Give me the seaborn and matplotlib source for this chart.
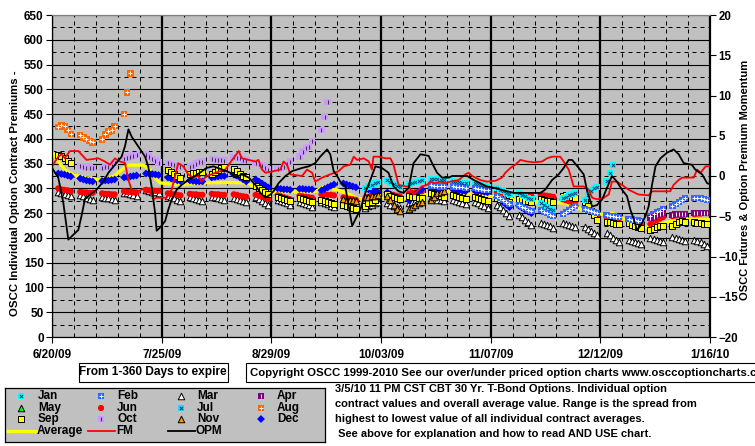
import numpy as np
import pandas as pd
import matplotlib
matplotlib.use("Agg")
import matplotlib.pyplot as plt
import matplotlib.dates as mdates
from matplotlib.ticker import FixedLocator, MultipleLocator, NullFormatter
from matplotlib.patches import Rectangle
import seaborn as sns

plt.rcParams['font.family'] = ['Liberation Sans', 'DejaVu Sans']
plt.rcParams['font.weight'] = 'bold'

# ---------------- data ----------------
base_date = "2009-06-20"
x_tick_dates = ["2009-06-20", "2009-07-25", "2009-08-29", "2009-10-03",
                "2009-11-07", "2009-12-12", "2010-01-16"]
x_tick_labels = ["6/20/09", "7/25/09", "8/29/09", "10/03/09", "11/07/09", "12/12/09", "1/16/10"]
left_ticks = list(range(0, 651, 50))
right_ticks = list(range(-20, 21, 5))

# contract series: first trading day + one value per trading day (Mon-Fri); None = no value
mar_start = "2009-06-22"
mar = [293, 291, 289, 287, 285, 287, 284, 281, 279, 277, 283, 281, 280, 279, 277,
       291, 290, 288, 286, 285, 297, 295, 293, 292, 291, 285, 282, 280, 277, 275,
       283, 281, 279, 277, 275, 283, 282, 280, 279, 277, 281, 279, 277, 275, 272,
       282, 278, 274, 270, 267, 277, 275, 272, 270, 267, 273, 271, 268, 266, 263,
       272, 270, 268, 265, 263, 270, 267, 265, 262, 259, 261, 264, 267, 270, 273,
       270, 267, 264, 262, 260, 271, 273, 275, 276, 277, 280, 279, 277, 276, 274,
       277, 275, 273, 271, 268, 273, 270, 267, 264, 260, 267, 262, 256, 250, 244,
       247, 242, 237, 232, 227, 230, 228, 226, 224, 221, 230, 228, 226, 224, 222,
       222, 218, 214, 210, 206, 210, 205, 200, 196, 192, 196, 193, 191, 189, 187,
       199, 198, 196, 194, 192, 201, 199, 197, 195, 193, 196, 194, 191, 188, 184]

jun_start = "2009-06-22"
jun = [300, 298, 297, 296, 294, 293, 292, 292, 291, 291, 290, 289, 289, 288, 288,
       294, 293, 293, 292, 292, 297, 296, 296, 295, 295, 290, 289, 288, 287, 286,
       289, 288, 288, 287, 287, 289, 288, 288, 287, 287, 288, 287, 285, 284, 283,
       287, 285, 283, 281, 279, 286, 284, 282, 280, 278, 285, 284, 283, 282, 281,
       288, 288, 287, 287, 286, 282, 280, 279, 278, 277, 280, 283, 286, 289, 292,
       290, 288, 287, 285, 284, 290, 291, 292, 293, 294, 296, 297, 297, 298, 298,
       298, 297, 297, 296, 296, 295, 294, 294, 293, 293, 292, 291, 290, 289, 288,
       288, 287, 286, 285, 284, 287, 286, 285, 284, 283, 278, 276, 274, 272, 270,
       262, 257, 252, 248, 245, 243, 242, 241, 240, 239, 238, 235, 232, 230, 228,
       228, 232, 236, 239, 242, 244, 245, 246, 246, 247, 248, 249, 249, 250, 250]

sep_start = "2009-06-22"
sep = [368, 366, 361, 356, 352, None, None, None, None, None, None, None, None, None, None,
       None, None, None, None, None, None, None, None, None, None, 337, 333, 329, 325, 321,
       330, 331, 332, 333, 334, 330, 334, 338, 341, 343, 340, 335, 330, 326, 322,
       305, 300, 296, 292, 288, 283, 281, 279, 277, 275, 280, 278, 276, 274, 272,
       277, 275, 273, 271, 269, 267, 264, 262, 260, 258, 265, 270, 273, 277, 285,
       288, 285, 282, 280, 278, 284, 283, 282, 281, 280, 290, 288, 286, 284, 282,
       287, 285, 283, 281, 279, 283, 281, 279, 277, 275, 280, 278, 276, 274, 272,
       279, 277, 275, 274, 272, 278, 276, 275, 274, 272, 285, 286, 285, 283, 281,
       273, 265, 255, 246, 237, 233, 232, 230, 229, 228, 230, 227, 224, 222, 220,
       216, 219, 222, 224, 225, 224, 228, 232, 234, 233, 232, 231, 230, 229, 228]

dec_start = "2009-06-22"
dec = [330, 329, 328, 326, 324, 320, 318, 316, 315, 314, 315, 316, 316, 317, 318,
       322, 323, 324, 325, 326, 330, 330, 329, 328, 327, 322, 320, 318, 316, 315,
       316, 315, 314, 314, 314, 322, 323, 324, 325, 325, 328, 326, 322, 318, 314,
       318, 314, 310, 306, 302, 300, 299, 298, 298, 297, 299, 299, 298, 298, 298,
       296, 299, 302, 305, 308, 310, 308, 306, 304, 302, 300, 298, 296, 294, 292,
       292, 288, 284, 280, 276, 276, 282, 288, 293, 298, 300, 300, 299, 299, 298,
       298, 297, 296, 295, 294, 296, 295, 294, 293, 292, 282, 277, 272, 267, 262,
       265, 261, 257, 253, 250]

aug_start = "2009-06-22"
aug = [424, 427, 425, 418, 410, 408, 403, 400, 396, 393, 399, 409, 415, 417, 426,
       450, 494, 532]

oct_start = "2009-06-29"
oct_ = [345, 343, 342, 342, 341, 341, 343, 344, 346, 351, 360, 362, 364, 366, 367,
        368, 364, 359, 356, 352, 351, 349, 347, 345, 344, 344, 346, 350, 353, 354,
        359, 358, 357, 357, 356, 363, 362, 361, 358, 356, 352, 349, 346, 342, 338,
        339, 341, 344, 349, 354, 364, 374, 381, 384, 396, 418, 444, 474]

jan_start = "2009-09-28"
jan = [301, 304, 307, 310, 313, 316, 312, 308, 305, 302, 308, 311, 313, 315, 316,
       318, 319, 318, 317, 316, 314, 313, 312, 311, 310, 310, 309, 307, 305, 303,
       300, 297, 294, 291, 288, 290, 287, 284, 281, 278, 270, 266, 262, 259, 256,
       280, 283, 286, 288, 290, 277, 287, 294, 300, 303, 314, 331, 347]

feb_start = "2009-10-19"
feb = [306, 305, 305, 304, 304, 304, 303, 302, 302, 301, 300, 299, 298, 297, 296,
       285, 281, 277, 273, 269, 266, 263, 260, 257, 254, 256, 253, 250, 247, 244,
       249, 253, 257, 261, 265, 258, 256, 254, 252, 250, 246, 245, 244, 243, 242,
       238, 237, 236, 235, 234, 245, 249, 252, 255, 258, 265, 269, 273, 277, 280,
       281, 281, 280, 278, 276]

apr_start = "2009-12-28"
apr = [240, 243, 246, 248, 250, 247, 248, 248, 249, 249, 250, 251, 251, 250, 250]

nov_start = "2009-09-21"
nov = [278, 277, 276, 276, 275, 282, 283, 284, 285, 286, 284, 277, 267, 258, 255,
       258, 262, 267, 270, 272, 277, 283, 290, 293, 295]

# lines: days after 6/20/09 and values
avg_days = [0, 1.6, 4.2, 6.9, 11.2, 15.4, 19.7, 22.9, 24.4, 29.2, 31.4, 33.5, 34.6, 41.0,
            47.3, 56.0, 62.3, 66.5, 69.0, 74.5, 84.0, 86.5, 91.1, 95.2, 97.8, 104.8, 111.2,
            115.3, 126.2, 139.9, 147.2, 153.6, 159.0, 163.8, 168.0, 173.4, 178.8, 183.0,
            187.1, 191.6, 195.7, 202.1, 210.4]
avg_vals = [374, 358, 337, 327, 321, 317, 324, 341, 347, 347, 337, 317, 311, 307,
            311, 312, 311, 297, 292, 293, 293, 303, 297, 287, 279, 280, 277,
            284, 294, 284, 277, 273, 273, 270, 260, 247, 250, 237,
            220, 223, 231, 237, 237]

fm_days = [0, 2.0, 3.1, 4.1, 5.7, 8.4, 11.0, 14.8, 16.9, 18.5,
           20.1, 21.7, 23.3, 24.4, 25.4, 27.5, 29.7, 31.3, 32.3, 33.4,
           36.6, 38.2, 40.3, 41.9, 43.5, 45.1, 46.7, 47.7, 49.3, 50.9,
           52.1, 55.3, 57.5, 59.6, 60.6, 62.8, 64.9, 65.9, 67.0, 68.1,
           70.7, 72.9, 73.9, 75.0, 76.1, 79.8, 81.4, 83.0, 84.0, 86.2,
           88.8, 91.5, 93.1, 95.2, 96.3, 97.4, 99.5, 101.1, 102.1, 102.6,
           104.2, 106.4, 108.0, 109.0, 110.6, 112.8, 113.8, 114.9, 115.4, 116.5,
           118.1, 119.7, 120.7, 122.3, 123.9, 125.5, 127.1, 129.8, 131.9, 133.0,
           134.1, 136.7, 138.8, 141.5, 143.6, 144.7, 146.3, 147.9, 149.5, 151.6,
           153.7, 156.4, 158.0, 159.6, 162.2, 163.3, 164.9, 166.5, 169.7, 171.3,
           172.4, 174.0, 176.1, 177.7, 178.7, 180.3, 181.9, 184.0, 187.2, 190.4,
           191.5, 197.3, 198.4, 200.0, 201.1, 204.8, 205.9, 207.0, 208.6, 210.7]
fm_vals = [1.2, 2.4, 2.7, 2.2, 3.1, 3.1, 2.0, 2.2, 1.8, 1.4,
           2.2, 1.8, 1.6, -0.5, -1.7, -1.9, -1.5, -1.9, -2.9, -2.7,
           -2.7, -1.7, 1.6, 1.2, 0.2, -0.2, 0.0, -0.7, 0.0, 0.2,
           0.4, 0.8, 2.0, 3.1, 2.2, 2.0, 1.8, 2.0, 0.8, 0.4,
           0.6, 0.8, 1.8, 1.4, 0.2, 0.0, 0.8, 0.4, -0.7, -0.2,
           0.2, 0.6, 1.2, 1.4, 2.4, 2.0, 2.2, 1.8, 0.8, 2.4,
           2.4, 2.2, 2.2, 1.4, -1.1, -1.3, -1.3, -1.9, -2.3, -1.9,
           -1.3, -1.1, -0.7, -0.9, -0.7, -0.9, -0.7, -0.5, 0.2, 0.4,
           0.0, -0.5, -0.7, -0.6, -0.2, 0.4, 1.0, 1.4, 2.0, 1.8,
           1.7, 1.8, 2.2, 2.4, 2.4, 1.8, 0.8, -1.3, -1.3, -1.7,
           -2.7, -2.9, -2.7, -2.3, -0.7, -0.7, -1.1, -1.7, -2.3, -2.4,
           -1.9, -1.9, -1.1, -0.5, -0.2, -0.2, 0.8, 0.4, 1.2, 1.2]

opm_days = [0, 1.0, 2.0, 3.6, 5.2, 6.8, 8.4, 9.4, 10.5, 11.6,
            14.2, 16.4, 18.0, 20.1, 22.2, 23.3, 24.4, 25.4, 27.5, 29.7,
            30.7, 31.8, 32.9, 33.4, 34.5, 36.1, 37.1, 38.2, 39.8, 41.4,
            43.5, 45.6, 47.2, 49.3, 51.5, 54.3, 56.9, 58.5, 60.6, 62.8,
            64.9, 66.5, 68.1, 69.7, 70.7, 72.3, 74.5, 76.6, 79.8, 81.9,
            84.0, 85.6, 87.8, 88.8, 89.9, 91.0, 92.0, 93.6, 94.7, 95.8,
            96.8, 98.4, 100.0, 101.6, 103.2, 105.3, 107.4, 109.0, 110.6, 112.2,
            113.8, 115.4, 117.6, 120.2, 121.3, 122.9, 124.5, 126.6, 127.7, 132.5,
            134.6, 136.7, 138.8, 141.5, 145.2, 147.4, 155.9, 157.4, 159.6, 161.7,
            163.3, 164.9, 166.0, 168.1, 169.7, 170.8, 172.4, 174.0, 175.6, 177.1,
            178.7, 180.3, 181.9, 183.5, 184.6, 185.7, 186.7, 187.8, 189.4, 190.4,
            191.5, 192.6, 194.2, 196.3, 198.4, 200.0, 201.6, 204.2, 205.3, 207.5,
            209.1, 210.7]
opm_vals = [1.0, 0.4, -0.2, -3.3, -7.9, -7.3, -6.7, -5.0, -2.9, -2.5,
            -1.7, -0.7, 0.4, 1.4, 2.4, 3.7, 5.8, 4.9, 3.7, 2.4,
            1.2, -1.3, -4.6, -6.8, -6.4, -5.6, -4.2, -2.9, -1.7, -1.1,
            -0.5, 0.0, 0.4, 1.0, 1.2, 0.8, 0.4, -0.2, 0.2, -0.2,
            -1.1, -2.1, -2.7, -2.3, -1.9, -0.9, 0.0, 0.6, 1.0, 1.2,
            1.6, 2.4, 3.3, 2.7, 0.6, 0.0, -0.7, -1.3, -3.8, -6.2,
            -5.4, -4.2, -2.1, -0.5, 1.2, 1.0, 0.4, -1.3, -1.9, -2.1,
            -1.5, 1.6, 2.7, 2.5, 1.6, 0.4, -0.2, -0.2, 0.0, 0.0,
            -0.5, -0.9, -1.3, -1.5, -1.9, -2.1, -2.1, -1.7, -0.5, 0.2,
            1.0, 2.0, 2.0, 1.0, 0.2, -1.9, -3.8, -3.6, -2.9, -1.5,
            0.0, -0.7, -1.7, -2.5, -4.2, -5.4, -6.7, -6.2, -5.0, -3.8,
            -1.1, 1.2, 2.2, 2.9, 3.3, 2.7, 1.6, 1.4, 0.8, 0.2,
            -0.9, -1.1]

legend_labels = ["Jan", "Feb", "Mar", "Apr", "May", "Jun", "Jul", "Aug",
                 "Sep", "Oct", "Nov", "Dec", "Average", "FM", "OPM"]

# ---------------- styles ----------------
ms_styles = {
    "Jan": dict(marker="s", fc="#00FFFF", ec="none", s=20, inner="x", ic="#004080"),
    "Feb": dict(marker="s", fc="#3366FF", ec="none", s=20, inner="+", ic="white"),
    "Mar": dict(marker="^", fc="white", ec="black", s=22, inner=None, ic=None),
    "Apr": dict(marker="s", fc="#800080", ec="none", s=20, inner="|", ic="white"),
    "May": dict(marker="^", fc="#00FF00", ec="black", s=22, inner=None, ic=None),
    "Jun": dict(marker="o", fc="#FF0000", ec="none", s=20, inner=None, ic=None),
    "Jul": dict(marker="s", fc="#33CCFF", ec="none", s=20, inner="x", ic="#004080"),
    "Aug": dict(marker="s", fc="#FF6600", ec="none", s=22, inner="+", ic="white"),
    "Sep": dict(marker="s", fc="#FFFF00", ec="black", s=20, inner=None, ic=None),
    "Oct": dict(marker="s", fc="#CC99FF", ec="none", s=22, inner="|", ic="#333333"),
    "Nov": dict(marker="^", fc="#FF9900", ec="black", s=22, inner=None, ic=None),
    "Dec": dict(marker="D", fc="#0000FF", ec="none", s=16, inner=None, ic=None),
}
series = {"Mar": (mar_start, mar), "Jun": (jun_start, jun), "Dec": (dec_start, dec),
          "Sep": (sep_start, sep), "Aug": (aug_start, aug), "Oct": (oct_start, oct_),
          "Nov": (nov_start, nov), "Jan": (jan_start, jan), "Feb": (feb_start, feb),
          "Apr": (apr_start, apr)}

W, H = 755, 446
fig = plt.figure(figsize=(W / 100, H / 100), dpi=100)
L, R, T, B = 52, 710, 15, 337
ax = fig.add_axes([L / W, 1 - B / H, (R - L) / W, (B - T) / H])
ax.set_facecolor("#C0C0C0")

base = pd.Timestamp(base_date)
x0 = pd.Timestamp(x_tick_dates[0])
x1 = pd.Timestamp(x_tick_dates[-1])

# grid
ax.set_ylim(0, 650)
ax.set_xlim(x0, x1)
ax.yaxis.set_major_locator(FixedLocator(left_ticks))
ax.yaxis.set_minor_locator(MultipleLocator(25))
major_x = pd.to_datetime(x_tick_dates)
minor_x = pd.date_range(x0, x1, freq="7D")
ax.xaxis.set_major_locator(FixedLocator(mdates.date2num(major_x)))
ax.xaxis.set_minor_locator(FixedLocator(mdates.date2num(minor_x)))
ax.xaxis.set_minor_formatter(NullFormatter())
ax.grid(which="major", axis="y", color="black", lw=0.8, ls="-", zorder=0)
ax.grid(which="minor", axis="y", color="black", lw=0.72, ls=(0, (4, 4)), zorder=0)
ax.grid(which="major", axis="x", color="black", lw=1.6, ls="-", zorder=0)
ax.grid(which="minor", axis="x", color="black", lw=0.72, ls=(0, (4, 4)), zorder=0)
ax.set_axisbelow(True)

# marker series
order = ["Mar", "Jun", "Dec", "Sep", "Aug", "Oct", "Nov", "Jan", "Feb", "Apr"]
for name in order:
    start, vals = series[name]
    st = ms_styles[name]
    d = pd.bdate_range(start, periods=len(vals))
    df = pd.DataFrame({"date": d, "v": pd.array(vals, dtype="Float64").astype(float)})
    df = df.dropna()
    sns.scatterplot(data=df, x="date", y="v", ax=ax, marker=st["marker"], s=st["s"],
                    color=st["fc"], edgecolor=st["ec"], linewidth=0.7, legend=False, zorder=3)
    if st["inner"]:
        sns.scatterplot(data=df, x="date", y="v", ax=ax, marker=st["inner"], s=5,
                        color=st["ic"], linewidth=0.7, legend=False, zorder=3.1)

# average line
adf = pd.DataFrame({"date": base + pd.to_timedelta(avg_days, unit="D"), "v": avg_vals})
sns.lineplot(data=adf, x="date", y="v", ax=ax, color="#FFFF00", lw=2.4, sort=False,
             estimator=None, zorder=2.5)
ax.set_xticks(mdates.date2num(major_x))
ax.set_xticklabels(x_tick_labels)
ax.set_xlabel("")
ax.set_ylabel("")

# right axis
ax2 = ax.twinx()
ax2.set_ylim(-20, 20)
ax2.yaxis.set_major_locator(FixedLocator(right_ticks))
fdf = pd.DataFrame({"date": base + pd.to_timedelta(fm_days, unit="D"), "v": fm_vals})
odf = pd.DataFrame({"date": base + pd.to_timedelta(opm_days, unit="D"), "v": opm_vals})
sns.lineplot(data=fdf, x="date", y="v", ax=ax2, color="#FF0000", lw=1.3, sort=False, estimator=None)
sns.lineplot(data=odf, x="date", y="v", ax=ax2, color="black", lw=1.3, sort=False, estimator=None)
ax2.set_xlim(x0, x1)
ax2.set_ylabel("")
ax2.set_xlabel("")

# spines / ticks
for a in (ax, ax2):
    a.spines["top"].set_color("#808080")
    a.spines["top"].set_linewidth(0.8)
    for s in ("left", "right", "bottom"):
        a.spines[s].set_color("black")
        a.spines[s].set_linewidth(0.8)
ax.tick_params(axis="y", which="major", length=4, width=0.8, direction="out", pad=2,
               labelsize=8.5, colors="black")
ax.tick_params(axis="x", which="major", length=4, width=0.8, direction="out", pad=5,
               labelsize=8.5)
ax.tick_params(which="minor", length=0)
ax2.tick_params(axis="y", which="major", length=4, width=0.8, direction="out", pad=2,
                labelsize=8.3)
for lab in ax.get_xticklabels() + ax.get_yticklabels() + ax2.get_yticklabels():
    lab.set_fontweight("bold")

# axis titles
fig.text(15 / W, 1 - 193 / H, "OSCC Individual Option Contract Premiums -", rotation=90,
         ha="center", va="center", fontsize=8.2, fontweight="bold")
fig.text(745 / W, 1 - 180 / H, "OSCC Futures & Option Premium Momentum", rotation=90,
         ha="center", va="center", fontsize=8.0, fontweight="bold")

# boxes with text
def px_box(x, y, w, h):
    return Rectangle((x / W, 1 - (y + h) / H), w / W, h / H, transform=fig.transFigure,
                     facecolor="white", edgecolor="black", lw=0.8, clip_on=True)

fig.patches.append(px_box(79, 363, 149, 19))
fig.text(153 / W, 1 - 372.5 / H, "From 1-360 Days to expire", ha="center", va="center",
         fontsize=8.6, fontweight="bold")
fig.patches.append(px_box(246, 363, 560, 19))
fig.text(250 / W, 1 - 372.5 / H,
         "Copyright OSCC 1999-2010 See our over/under priced option charts www.osccoptioncharts.com",
         ha="left", va="center", fontsize=8.2, fontweight="bold")

notes = ["3/5/10 11 PM CST CBT 30 Yr. T-Bond Options. Individual option",
         "contract values and overall average value. Range is the spread from",
         "highest to lowest value of all individual contract averages.",
         " See above for explanation and how to read AND USE chart."]
for i, line in enumerate(notes):
    fig.text(335 / W, 1 - (389 + 15 * i) / H, line, ha="left", va="center",
             fontsize=8.0, fontweight="bold")

# legend box (drawn manually)
lx, ly, lw_, lh = 5, 388, 320, 54
lax = fig.add_axes([lx / W, 1 - (ly + lh) / H, lw_ / W, lh / H])
lax.set_xlim(0, lw_)
lax.set_ylim(lh, 0)
lax.set_facecolor("#C0C0C0")
lax.set_xticks([])
lax.set_yticks([])
for s in lax.spines.values():
    s.set_color("black")
    s.set_linewidth(0.9)
col_m = [16, 96, 176, 256]
col_t = [33, 112, 192, 272]
row_y = [8, 20, 31, 43]
for idx, name in enumerate(legend_labels[:12]):
    r, c = divmod(idx, 4)
    st = ms_styles[name]
    lax.scatter([col_m[c]], [row_y[r]], marker=st["marker"], s=st["s"], c=st["fc"],
                edgecolors=st["ec"], linewidths=0.7, zorder=3)
    if st["inner"]:
        lax.scatter([col_m[c]], [row_y[r]], marker=st["inner"], s=5, c=st["ic"],
                    linewidths=0.7, zorder=4)
    lax.text(col_t[c], row_y[r], name, ha="left", va="center", fontsize=8.5,
             fontweight="bold")
line_styles = [("#FFFF00", 2.4), ("#FF0000", 1.3), ("black", 1.3)]
for c, (name, (colr, lwv)) in enumerate(zip(legend_labels[12:], line_styles)):
    lax.plot([col_m[c] - 13, col_t[c] - 2], [row_y[3], row_y[3]], color=colr, lw=lwv)
    lax.text(col_t[c] - 1, row_y[3], name, ha="left", va="center", fontsize=8.5,
             fontweight="bold")

fig.savefig("out.png", dpi=100, facecolor="white")
